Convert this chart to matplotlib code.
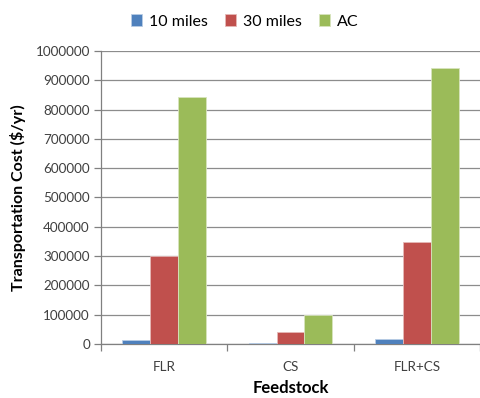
import numpy as np
import matplotlib
matplotlib.use('Agg')
import matplotlib.pyplot as plt

plt.rcParams['font.family'] = ['Lato', 'DejaVu Sans']

categories = ['FLR', 'CS', 'FLR+CS']
series_names = ['10 miles', '30 miles', 'AC']
miles10 = [14000, 4000, 17000]
miles30 = [302000, 41000, 347000]
ac = [844000, 99000, 943000]
yticks = np.arange(0, 1000001, 100000)

colors = ['#4F81BD', '#C0504D', '#9BBB59']
edges = ['#B9CDE5', '#E6B9B8', '#D7E4BD']

fig = plt.figure(figsize=(4.8, 3.98), dpi=100)
ax = fig.add_axes([0.2104, 0.1357, 0.7896, 0.7362])

x = np.arange(len(categories))
w = 0.22
for i, vals in enumerate([miles10, miles30, ac]):
    ax.bar(x + (i - 1) * w, vals, w, color=colors[i], edgecolor=edges[i],
           linewidth=0.6, label=series_names[i], zorder=3)

ax.set_xlim(-0.5, 2.5)
ax.set_ylim(0, 1000000)
ax.set_yticks(yticks)
ax.set_yticklabels(['%d' % v for v in yticks], fontsize=9.7, color='#404040')
ax.yaxis.grid(True, color='#8C8C8C', linewidth=0.9, zorder=0)

# category ticks between groups, labels at centres
ax.set_xticks([-0.5, 0.5, 1.5, 2.5])
ax.set_xticklabels([])
ax.set_xticks(x, minor=True)
ax.set_xticklabels(categories, minor=True, fontsize=9.7, color='#404040')
ax.tick_params(axis='x', which='minor', length=0, pad=12)
ax.tick_params(axis='x', which='major', length=5, color='#808080', width=0.9)
ax.tick_params(axis='y', length=5, color='#808080', width=0.9, pad=3)

for s in ['top', 'right']:
    ax.spines[s].set_visible(False)
for s in ['left', 'bottom']:
    ax.spines[s].set_color('#808080')
    ax.spines[s].set_linewidth(0.9)

ax.set_ylabel('Transportation Cost ($/yr)', fontsize=11.5, fontweight='bold',
              labelpad=7)
ax.set_xlabel('Feedstock', fontsize=12, fontweight='bold', labelpad=5)

fig.legend(loc='upper center', bbox_to_anchor=(0.51, 1.0), ncol=3, frameon=False,
           fontsize=11.5, handlelength=0.7, handleheight=0.7, handletextpad=0.4,
           columnspacing=1.1)

fig.savefig('out.png', dpi=100)
